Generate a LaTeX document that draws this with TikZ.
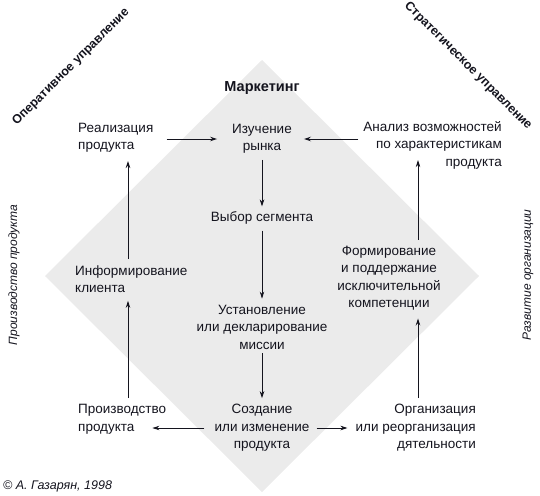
\documentclass[tikz,border=0pt]{standalone}
\usepackage{fontspec}
\setmainfont{Liberation Sans}
\usetikzlibrary{arrows.meta}
\definecolor{dia}{RGB}{235,235,235}
\definecolor{ink}{RGB}{20,20,30}
\tikzset{
  txt/.style={inner sep=0pt, font=\fontsize{13.5}{17.5}\selectfont, text=ink},
  arr/.style={draw=ink, line width=0.8pt, -{Stealth[length=7pt,width=4.5pt]}},
  side/.style={inner sep=0pt, font=\fontsize{12}{14}\selectfont\itshape, text=ink},
  diag/.style={inner sep=0pt, font=\fontsize{12.5}{14}\selectfont\bfseries, text=ink}
}
\begin{document}
\begin{tikzpicture}[x=1pt,y=-1pt]
\useasboundingbox (0,0) rectangle (540,495);
\fill[dia] (262,60) -- (479,276) -- (262,492) -- (45,276) -- cycle;
\coordinate (colL) at (128,0);
\coordinate (colR) at (418,0);

\node[diag, font=\fontsize{14.5}{16}\selectfont\bfseries] (mk) at (262,88) {Маркетинг};
\node[diag, rotate=45] (oper) at (71,67) {Оперативное управление};
\node[diag, rotate=-45] (strat) at (468,66) {Стратегическое управление};
\node[side, rotate=90] (prodv) at (14,275) {Производство продукта};
\node[side, rotate=90] (razv) at (528,275) {Развитие организации};
\node[side, anchor=west, font=\fontsize{12.5}{14}\selectfont\itshape] (copy) at (3,486) {© А. Газарян, 1998};

\node[txt, align=center] (izu) at (262,139) {Изучение\\рынка};
\node[txt, align=left, anchor=west] (real) at (78,138) {Реализация\\продукта};
\node[txt, align=right, anchor=east] (anal) at (502,145) {Анализ возможностей\\по характеристикам\\продукта};
\node[txt, align=center] (vyb) at (262,218) {Выбор сегмента};
\node[txt, align=left, anchor=west] (inf) at (75,279) {Информирование\\клиента};
\node[txt, align=center] (form) at (389,278) {Формирование\\и поддержание\\исключительной\\компетенции};
\node[txt, align=center] (ust) at (262,327) {Установление\\или декларирование\\миссии};
\node[txt, align=center] (soz) at (262,428) {Создание\\или изменение\\продукта};
\node[txt, align=left, anchor=west] (prod) at (78,419) {Производство\\продукта};
\node[txt, align=right, anchor=east] (org) at (476,428) {Организация\\или реорганизация\\дятельности};

% horizontal
\draw[arr] ([xshift=13pt]real.east |- izu.west) -- ([xshift=-15pt]izu.west);
\draw[arr] ([xshift=-5pt]anal.west |- izu.east) -- ([xshift=12pt]izu.east);
\draw[arr] ([xshift=-10pt]soz.west) -- ([xshift=-14pt]soz.west -| prod.east);
\draw[arr] ([xshift=7pt]soz.east) -- ([xshift=-8pt]soz.east -| org.west);
% vertical centre
\draw[arr] ([yshift=-6pt]izu.south) -- ([yshift=5pt]vyb.north);
\draw[arr] ([yshift=-6pt]vyb.south) -- ([yshift=6pt]ust.north);
\draw[arr] ([yshift=-4pt]ust.south) -- ([yshift=6pt]soz.north);
% left column
\draw[arr] ([yshift=6pt]prod.north -| colL) -- ([yshift=-8pt]inf.south -| colL);
\draw[arr] ([yshift=6pt]inf.north -| colL) -- ([yshift=-8pt]real.south -| colL);
% right column
\draw[arr] ([yshift=6pt]org.north -| colR) -- ([yshift=-8pt]form.south -| colR);
\draw[arr] ([yshift=6pt]form.north -| colR) -- ([yshift=9pt]anal.south -| colR);
\end{tikzpicture}
\end{document}
